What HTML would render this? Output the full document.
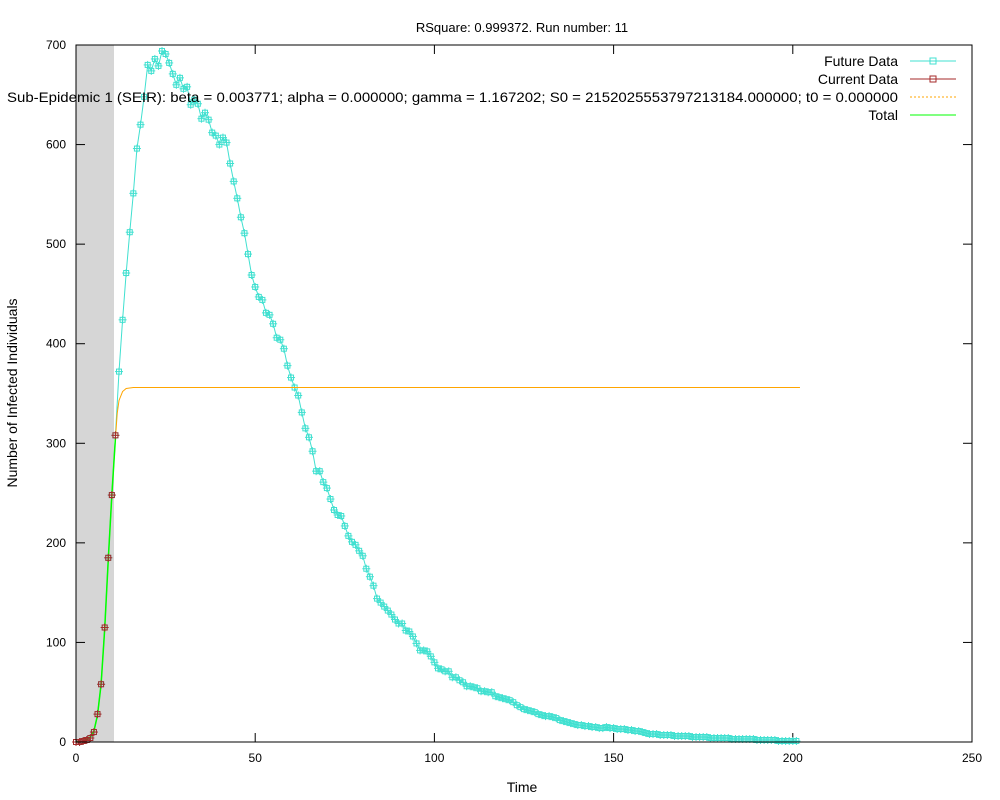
<!DOCTYPE html>
<html><head><meta charset="utf-8"><style>
body{margin:0;background:#fff}
svg{display:block;font-family:"Liberation Sans",sans-serif}
</style></head><body>
<svg id="chart" width="1000" height="800" viewBox="0 0 1000 800">
<rect x="0" y="0" width="1000" height="800" fill="#fff"/>
<rect id="shade" fill="#d6d6d6"/>
<g id="grid"></g>
<g id="series"></g>
<rect x="76" y="45" width="896" height="697" fill="none" stroke="#000" stroke-width="1"/>
<text x="522" y="32" font-size="13" text-anchor="middle">RSquare: 0.999372. Run number: 11</text>
<text x="522" y="792" font-size="14" text-anchor="middle">Time</text>
<text x="17" y="393" font-size="14" text-anchor="middle" transform="rotate(-90 17 393)">Number of Infected Individuals</text>
<g id="legend" font-size="14" text-anchor="end">
<g><text x="898" y="66">Future Data</text><line x1="910" y1="61" x2="956" y2="61" stroke="#40e0d0"/><rect x="930" y="58" width="6" height="6" fill="none" stroke="#40e0d0"/></g>
<g><text x="898" y="84">Current Data</text><line x1="910" y1="79" x2="956" y2="79" stroke="#a52a2a"/><rect x="930" y="76" width="6" height="6" fill="none" stroke="#a52a2a"/></g>
<g><text x="898" y="102" textLength="891" lengthAdjust="spacingAndGlyphs">Sub-Epidemic 1 (SEIR): beta = 0.003771; alpha = 0.000000; gamma = 1.167202; S0 = 2152025553797213184.000000; t0 = 0.000000</text><line x1="910" y1="97" x2="956" y2="97" stroke="#ffa500" stroke-dasharray="2,2"/></g>
<g><text x="898" y="120">Total</text><line x1="910" y1="115" x2="956" y2="115" stroke="#00ff00"/></g>
</g>
</svg>
<script>
const futureValues=[0,0,1,2,4,10,28,58,115,185,248,308,
372,424,471,512,551,596,620,648,680,674,686,679,694,691,682,671,660,667,656,658,640,645,641,626,632,625,612,609,600,607,602,581,563,546,527,511,490,469,
457,447,444,431,429,420,406,404,395,378,366,356,348,331,315,306,292,272,272,261,255,244,233,228,227,217,207,201,198,192,187,174,166,
157,144,140,136,132,128,123,119,119,112,111,106,99,92,92,91,86,80,74,73,71,71,65,65,62,60,56,56,55,54,51,51,50,50,46,45,44,43,
42,40,37,35,33,32,31,30,28,27,26,26,25,24,22,21,20,19,18,17,17,16,16,15,15,14,14,15,14,14,13,13,13,12,12,11,11,10,9,8,
8,8,7,7,7,7,6,6,6,6,6,5,5,5,5,5,4,4,4,4,4,4,3,3,3,3,3,3,3,2,2,2,2,2,2,1,1,1,1,1,1];
const currentValues=[0,0,1,2,4,10,28,58,115,185,248,308];
const fitTimes=[0,2,4,5,6,7,8,9,10,11,11.5,12,13,14,16,202];
const fitValues=[0,1,5,11,27,58,113,183,248,305,330,343,352,355,356,356];
const totalTimes=[0,2,4,5,6,7,8,9,10,11];
const totalValues=[0,1,5,11,27,58,113,183,248,305];
const shadeEnd=10.6;
const xTicks=[0,50,100,150,200,250];
const yTicks=[0,100,200,300,400,500,600,700];

const NS='http://www.w3.org/2000/svg';
const X=t=>76+t*(896/250);
const Y=v=>742-v*(697/700);
function mk(tag,attrs,parent){const e=document.createElementNS(NS,tag);for(const k in attrs)e.setAttribute(k,attrs[k]);parent.appendChild(e);return e;}
const shade=document.getElementById('shade');
shade.setAttribute('x',X(0));shade.setAttribute('y',45);shade.setAttribute('width',X(shadeEnd)-X(0));shade.setAttribute('height',697);
const grid=document.getElementById('grid');
xTicks.forEach(t=>{
 const g=mk('g',{},grid);
 
 
 mk('line',{x1:X(t),x2:X(t),y1:742,y2:733,stroke:'#000'},g);
 mk('line',{x1:X(t),x2:X(t),y1:45,y2:54,stroke:'#000'},g);
 const tx=mk('text',{x:X(t),y:762,'font-size':12,'text-anchor':'middle'},g);tx.textContent=t;
});
yTicks.forEach(v=>{
 const g=mk('g',{},grid);
 
 
 mk('line',{x1:76,x2:85,y1:Y(v),y2:Y(v),stroke:'#000'},g);
 mk('line',{x1:972,x2:963,y1:Y(v),y2:Y(v),stroke:'#000'},g);
 const tx=mk('text',{x:66,y:Y(v)+4,'font-size':12,'text-anchor':'end'},g);tx.textContent=v;
});
const S=document.getElementById('series');
function marker(parent,x,y,color){
 mk('rect',{x:x-2.5,y:y-2.5,width:5,height:5,fill:'none',stroke:color},parent);
 mk('line',{x1:x,x2:x,y1:y-4,y2:y+4,stroke:color},parent);
 mk('line',{x1:x-4,x2:x+4,y1:y,y2:y,stroke:color},parent);
}
const fg=mk('g',{},S);


mk('polyline',{points:futureValues.map((v,i)=>X(i)+','+Y(v)).join(' '),fill:'none',stroke:'#40e0d0'},fg);
futureValues.forEach((v,i)=>marker(fg,X(i),Y(v),'#40e0d0'));
const og=mk('g',{},S);


mk('polyline',{points:fitTimes.map((t,i)=>X(t)+','+Y(fitValues[i])).join(' '),fill:'none',stroke:'#ffa500'},og);
const tg=mk('g',{},S);


mk('polyline',{points:totalTimes.map((t,i)=>X(t)+','+Y(totalValues[i])).join(' '),fill:'none',stroke:'#00ff00','stroke-width':1.5},tg);
const cg=mk('g',{},S);


currentValues.forEach((v,i)=>marker(cg,X(i),Y(v),'#a52a2a'));
</script>
</body></html>
